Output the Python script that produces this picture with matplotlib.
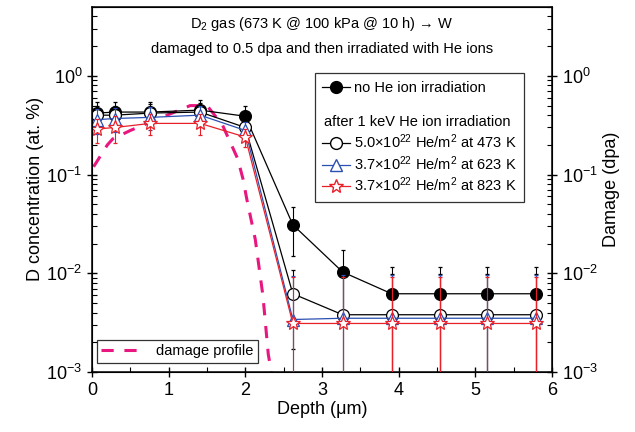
import numpy as np
import matplotlib
matplotlib.use("Agg")
import matplotlib.pyplot as plt
from matplotlib.lines import Line2D
from matplotlib.ticker import LogLocator, MultipleLocator

plt.rcParams['font.family'] = ['Liberation Sans', 'DejaVu Sans']
plt.rcParams['mathtext.fontset'] = 'custom'
plt.rcParams['mathtext.rm'] = 'Liberation Sans'
plt.rcParams['mathtext.it'] = 'Liberation Sans:italic'

# depth of the measured points (um)
depth = [0.065, 0.3, 0.76, 1.41, 2.0, 2.62, 3.27, 3.91, 4.54, 5.16, 5.8]

no_he = [0.42, 0.43, 0.43, 0.45, 0.39, 0.031, 0.0103, 0.0062, 0.0062, 0.0062, 0.0062]
no_he_err = [0.12, 0.12, 0.12, 0.12, 0.1, 0.016, 0.007, 0.0055, 0.0055, 0.0055, 0.0055]

he_473 = [0.40, 0.40, 0.42, 0.43, 0.30, 0.0062, 0.0038, 0.0038, 0.0038, 0.0038, 0.0038]
he_473_err = [0.1, 0.1, 0.1, 0.1, 0.07, 0.0045, 0.006, 0.006, 0.006, 0.006, 0.006]

he_623 = [0.36, 0.37, 0.38, 0.40, 0.28, 0.0034, 0.0035, 0.0035, 0.0035, 0.0035, 0.0035]
he_623_err = [0.1, 0.1, 0.1, 0.1, 0.06, 0.006, 0.006, 0.006, 0.006, 0.006, 0.006]

he_823 = [0.29, 0.30, 0.33, 0.33, 0.24, 0.0031, 0.0031, 0.0031, 0.0031, 0.0031, 0.0031]
he_823_err = [0.08, 0.09, 0.08, 0.08, 0.05, 0.006, 0.006, 0.006, 0.006, 0.006, 0.006]

# damage profile (dpa)
dmg_x = [0.02, 0.2, 0.27, 0.5, 0.98, 1.28, 1.5, 1.7, 1.9, 1.97, 2.02, 2.13, 2.23, 2.3, 2.34]
dmg_y = [0.12, 0.2, 0.23, 0.28, 0.40, 0.50, 0.50, 0.32, 0.145, 0.09, 0.056, 0.022, 0.0059, 0.0015, 0.001]

blue = '#2b4fb3'
red = '#e8202a'
pink = '#e8177f'

fig = plt.figure(figsize=(6.35, 4.32), dpi=100)
ax = fig.add_axes([0.145, 0.139, 0.724, 0.845])
ax2 = ax.twinx()

ax.plot(dmg_x, dmg_y, color=pink, lw=2.2, ls=(0, (4, 3.5)), zorder=1)

common = dict(lw=0.9, elinewidth=0.8, capsize=1.5, ms=8.5, mew=0.9)
ax.errorbar(depth, no_he, yerr=no_he_err, fmt='-o', color='black', mfc='black', zorder=2, **common)
ax.errorbar(depth, he_473, yerr=he_473_err, fmt='-o', color='black', mfc='white', zorder=3, **common)
ax.errorbar(depth, he_623, yerr=he_623_err, fmt='-^', color=blue, mfc='white', zorder=4, **common)
ax.errorbar(depth, he_823, yerr=he_823_err, fmt='-*', color=red, mfc='white', zorder=5,
            lw=0.9, elinewidth=0.8, capsize=1.5, ms=10, mew=0.9)

for a in (ax, ax2):
    a.set_yscale('log')
    a.set_ylim(1e-3, 5)
    a.yaxis.set_major_locator(LogLocator(base=10, numticks=10))
    a.yaxis.set_minor_locator(LogLocator(base=10, subs=np.arange(2, 10), numticks=10))
    a.tick_params(which='major', direction='inout', length=7, width=1, labelsize=13)
    a.tick_params(which='minor', direction='in', length=3.5, width=0.8)
ax.set_xlim(0, 6)
ax.xaxis.set_major_locator(MultipleLocator(1))
ax.xaxis.set_minor_locator(MultipleLocator(0.5))
for s in ax.spines.values():
    s.set_linewidth(1.1)

ax.set_xlabel('Depth (\u03bcm)', fontsize=13, labelpad=2)
ax.set_ylabel('D concentration (at. %)', fontsize=13, labelpad=2)
ax2.set_ylabel('Damage (dpa)', fontsize=13, labelpad=4)

ax.text(0.5, 0.978, 'D$_2$ gas (673 K @ 100 kPa @ 10 h) \u2192 W', transform=ax.transAxes,
        ha='center', va='top', fontsize=10.5)
ax.text(0.5, 0.905, 'damaged to 0.5 dpa and then irradiated with He ions', transform=ax.transAxes,
        ha='center', va='top', fontsize=10.5)

h_black = Line2D([], [], color='black', marker='o', mfc='black', ms=8.5, lw=0.9)
h_blank = Line2D([], [], color='none')
h_473 = Line2D([], [], color='black', marker='o', mfc='white', ms=8.5, lw=0.9)
h_623 = Line2D([], [], color=blue, marker='^', mfc='white', ms=8.5, lw=0.9)
h_823 = Line2D([], [], color=red, marker='*', mfc='white', ms=10, lw=0.9)
labels = ['no He ion irradiation', ' ', ' ',
          '5.0\u00d710$^{22}$ He/m$^2$ at 473 K',
          '3.7\u00d710$^{22}$ He/m$^2$ at 623 K',
          '3.7\u00d710$^{22}$ He/m$^2$ at 823 K']
leg = ax.legend([h_black, h_blank, h_blank, h_473, h_623, h_823], labels,
                loc='upper left', bbox_to_anchor=(0.485, 0.818), fontsize=10.5,
                frameon=True, fancybox=False, edgecolor='black', handlelength=1.9,
                handletextpad=0.3, labelspacing=0.22, borderpad=0.5, borderaxespad=0)
leg.get_frame().set_linewidth(0.9)
ax.add_artist(leg)

h_dmg = Line2D([], [], color=pink, lw=2.2, ls=(0, (4, 3.5)))
leg2 = ax.legend([h_dmg], ['damage profile'], loc='lower left', bbox_to_anchor=(0.01, 0.025),
                 fontsize=10.5, frameon=True, fancybox=False, edgecolor='black', handlelength=3.0,
                 borderpad=0.3, borderaxespad=0)
leg2.get_frame().set_linewidth(0.9)

# header line inside the legend, aligned with the handle column
fig.canvas.draw()
r = fig.canvas.get_renderer()
row = leg.get_texts()[2].get_window_extent(r)
box = leg.get_frame().get_window_extent(r)
hx, hy = ax.transAxes.inverted().transform((box.x0 + 0.5 * 10.5 * 100 / 72 + 2, (row.y0 + row.y1) / 2))
ax.text(hx, hy, 'after 1 keV He ion irradiation', transform=ax.transAxes,
        ha='left', va='center', fontsize=10.5, zorder=10)

fig.savefig('out.png', dpi=100)
